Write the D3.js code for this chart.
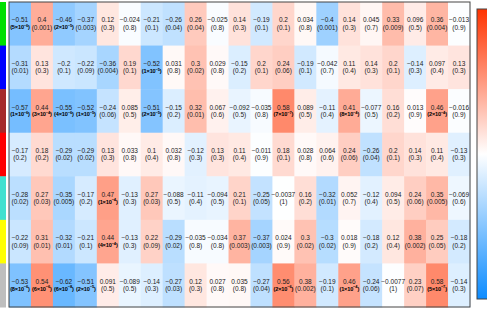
<!DOCTYPE html>
<html>
<head>
<meta charset="utf-8">
<script src="https://cdn.jsdelivr.net/npm/d3@7"></script>
<style>
  body { margin: 0; background: #fff; }
  svg text { font-family: "Liberation Sans", Arial, sans-serif; }
</style>
</head>
<body>
<div id="chart"></div>
<script>
const moduleColors = ["#00e000", "#0000ff", "#a52a2a", "#ff0000", "#40e0d0", "#ffff00", "#bebebe"];

const corGreen = [-0.51, 0.4, -0.46, -0.37, 0.12, -0.024, -0.21, -0.26, 0.26, -0.025, 0.14, -0.19, 0.2, 0.034, -0.4, 0.14, 0.045, 0.33, 0.096, 0.36, -0.013];
const pGreen = ["5e-6", "0.001", "2e-5", "0.003", "0.3", "0.8", "0.1", "0.04", "0.04", "0.8", "0.3", "0.1", "0.1", "0.8", "0.001", "0.3", "0.7", "0.009", "0.5", "0.004", "0.9"];

const corBlue = [-0.31, 0.13, -0.2, -0.22, -0.36, 0.19, -0.52, 0.031, 0.3, 0.029, -0.15, 0.2, 0.24, -0.19, -0.042, 0.11, 0.14, 0.2, -0.14, 0.097, 0.13];
const pBlue = ["0.01", "0.3", "0.1", "0.09", "0.004", "0.1", "1e-5", "0.8", "0.02", "0.8", "0.2", "0.1", "0.06", "0.1", "0.7", "0.4", "0.3", "0.1", "0.3", "0.4", "0.3"];

const corBrown = [-0.57, 0.44, -0.55, -0.52, -0.24, 0.085, -0.51, -0.15, 0.32, 0.067, -0.092, -0.035, 0.58, 0.089, -0.11, 0.41, -0.077, 0.16, 0.013, 0.46, -0.016];
const pBrown = ["1e-6", "3e-4", "4e-6", "1e-5", "0.06", "0.5", "2e-5", "0.2", "0.01", "0.6", "0.5", "0.8", "7e-7", "0.5", "0.4", "8e-4", "0.5", "0.2", "0.9", "2e-4", "0.9"];

const corRed = [-0.17, 0.18, -0.29, -0.29, 0.13, 0.033, 0.1, 0.032, -0.12, 0.13, 0.11, -0.011, 0.18, 0.028, 0.064, 0.24, -0.26, 0.2, 0.14, 0.11, -0.13];
const pRed = ["0.2", "0.2", "0.02", "0.02", "0.3", "0.8", "0.4", "0.8", "0.3", "0.3", "0.4", "0.9", "0.1", "0.8", "0.6", "0.06", "0.04", "0.1", "0.3", "0.4", "0.3"];

const corTurquoise = [-0.28, 0.27, -0.35, -0.17, 0.47, -0.13, 0.27, -0.088, -0.11, -0.094, 0.21, -0.25, -0.0037, 0.16, -0.32, 0.052, -0.12, 0.094, 0.24, 0.35, -0.069];
const pTurquoise = ["0.02", "0.03", "0.005", "0.2", "1e-4", "0.3", "0.03", "0.5", "0.4", "0.5", "0.1", "0.05", "1", "0.2", "0.01", "0.7", "0.4", "0.5", "0.06", "0.005", "0.6"];

const corYellow = [-0.22, 0.31, -0.32, -0.21, 0.44, -0.13, 0.22, -0.29, -0.035, -0.034, 0.37, -0.37, 0.024, 0.3, -0.3, 0.018, -0.18, 0.12, 0.38, 0.25, -0.18];
const pYellow = ["0.09", "0.01", "0.01", "0.1", "4e-4", "0.3", "0.09", "0.02", "0.8", "0.8", "0.003", "0.003", "0.9", "0.02", "0.02", "0.9", "0.2", "0.4", "0.002", "0.05", "0.2"];

const corGrey = [-0.53, 0.54, -0.62, -0.51, 0.091, -0.089, -0.14, -0.27, 0.12, 0.027, 0.035, -0.27, 0.56, 0.38, -0.19, 0.46, -0.24, -0.0077, 0.23, 0.58, -0.14];
const pGrey = ["8e-6", "6e-6", "6e-8", "2e-5", "0.5", "0.5", "0.3", "0.03", "0.3", "0.8", "0.8", "0.04", "2e-6", "0.002", "0.1", "1e-4", "0.06", "1", "0.07", "5e-7", "0.3"];

const corRows = [corGreen, corBlue, corBrown, corRed, corTurquoise, corYellow, corGrey];
const pRows = [pGreen, pBlue, pBrown, pRed, pTurquoise, pYellow, pGrey];

const width = 487, height = 311;
const box = { left: 9, right: 470, top: 2, bottom: 307 };

const svg = d3.select("#chart").append("svg")
  .attr("width", width)
  .attr("height", height);

const nCols = corGreen.length;
const x = d3.scaleBand().domain(d3.range(nCols)).range([box.left, box.right]);
const y = d3.scaleBand().domain(d3.range(corRows.length)).range([box.top, box.bottom]);

const color = d3.scaleLinear()
  .domain([-1, 0, 1])
  .range(["#0d8cff", "#ffffff", "#ff3300"]);

const cells = [];
corRows.forEach((row, i) => row.forEach((v, j) => cells.push({ i, j, v, p: pRows[i][j] })));

svg.append("g").selectAll("rect")
  .data(cells)
  .join("rect")
  .attr("x", (d) => x(d.j))
  .attr("y", (d) => y(d.i))
  .attr("width", x.bandwidth() + 0.5)
  .attr("height", y.bandwidth() + 0.5)
  .attr("fill", (d) => color(d.v));

// module colour bar
svg.append("g").selectAll("rect")
  .data(moduleColors)
  .join("rect")
  .attr("x", 0)
  .attr("y", (d, i) => y(i))
  .attr("width", 6)
  .attr("height", y.bandwidth() + 0.5)
  .attr("fill", (d) => d);

svg.append("rect")
  .attr("x", box.left)
  .attr("y", box.top)
  .attr("width", box.right - box.left)
  .attr("height", box.bottom - box.top)
  .attr("fill", "none")
  .attr("stroke", "#444")
  .attr("stroke-width", 1);

const fmt = (v) => String(v).replace("-", "\u2212");

const labels = svg.append("g").selectAll("g")
  .data(cells)
  .join("g")
  .attr("transform", (d) => `translate(${x(d.j) + x.bandwidth() / 2},${y(d.i) + y.bandwidth() / 2})`);

labels.append("text")
  .attr("y", -3.6)
  .attr("dy", "0.35em")
  .attr("text-anchor", "middle")
  .attr("font-size", 6.5)
  .attr("fill", "#222")
  .text((d) => fmt(d.v));

labels.append("text")
  .attr("y", 3.6)
  .attr("dy", "0.35em")
  .attr("text-anchor", "middle")
  .attr("font-size", 6.5)
  .attr("fill", "#222")
  .each(function (d) {
    const t = d3.select(this);
    if (d.p.includes("e")) {
      const [m, e] = d.p.split("e");
      t.attr("font-weight", "bold")
        .attr("font-size", 5.6)
        .attr("letter-spacing", -0.15)
        .attr("fill", "#000");
      t.append("tspan").text(`(${m}\u00d710`);
      t.append("tspan").attr("dy", -2.4).attr("font-size", 4).text(fmt(e));
      t.append("tspan").attr("dy", 2.4).text(")");
    } else {
      t.text(`(${d.p})`);
    }
  });

// colour key
const keyY = d3.scaleLinear().domain([1, -1]).range([9, 299]);
const defs = svg.append("defs");
const grad = defs.append("linearGradient")
  .attr("id", "key-grad")
  .attr("x1", 0).attr("x2", 0).attr("y1", 0).attr("y2", 1);
[1, 0, -1].forEach((v, i) => grad.append("stop")
  .attr("offset", `${i * 50}%`)
  .attr("stop-color", color(v)));

svg.append("rect")
  .attr("x", 477)
  .attr("y", keyY(1))
  .attr("width", 14)
  .attr("height", keyY(-1) - keyY(1))
  .attr("fill", "url(#key-grad)")
  .attr("stroke", "#444")
  .attr("stroke-width", 1);
</script>
</body>
</html>
